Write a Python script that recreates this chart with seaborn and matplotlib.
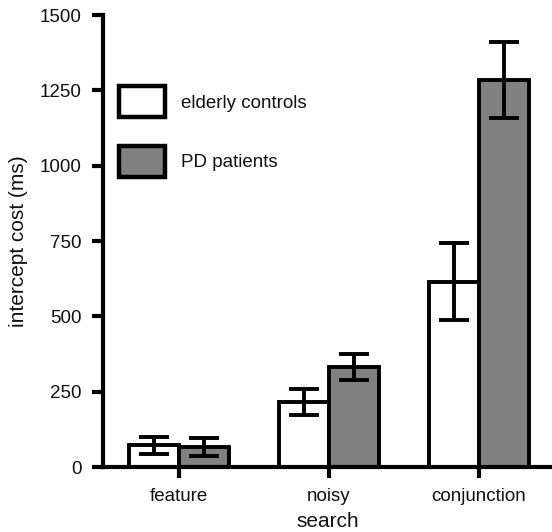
import matplotlib
matplotlib.use("Agg")
import matplotlib.pyplot as plt
import seaborn as sns
import pandas as pd
import numpy as np

categories = ["feature", "noisy", "conjunction"]
groups = ["elderly controls", "PD patients"]
controls = [72, 215, 615]
controls_err = [29, 43, 128]
pd_vals = [66, 332, 1285]
pd_err = [29, 43, 127]
yticks = [0, 250, 500, 750, 1000, 1250, 1500]

df = pd.DataFrame({
    "search": categories * 2,
    "group": [groups[0]] * 3 + [groups[1]] * 3,
    "cost": controls + pd_vals,
    "err": controls_err + pd_err,
})

sns.set_style("white")
plt.rcParams["font.family"] = ["Liberation Sans", "DejaVu Sans"]

W, H = 552, 532
fig = plt.figure(figsize=(W / 100, H / 100), dpi=100)
ax = fig.add_axes([103 / W, 65 / H, (W - 103) / W, 452 / H])

sns.barplot(data=df, x="search", y="cost", hue="group", order=categories,
            hue_order=groups, palette=["white", "#808080"], width=0.667,
            edgecolor="black", linewidth=2.8, errorbar=None, ax=ax,
            saturation=1)

# error bars at bar centres
for patch_group, g in zip(ax.containers, groups):
    sub = df[df["group"] == g].set_index("search").loc[categories]
    xs = [p.get_x() + p.get_width() / 2 for p in patch_group]
    ax.errorbar(xs, sub["cost"].values, yerr=sub["err"].values, fmt="none",
                ecolor="black", elinewidth=2.8, capsize=10.5, capthick=2.8,
                zorder=5)

ax.set_xlim(-0.507, 2.487)
ax.set_ylim(0, 1500)
ax.set_yticks(yticks)
ax.set_yticklabels([str(v) for v in yticks])

for s in ["top", "right"]:
    ax.spines[s].set_visible(False)
for s in ["left", "bottom"]:
    ax.spines[s].set_linewidth(3.0)
    ax.spines[s].set_color("black")

ax.tick_params(axis="both", direction="out", length=8, width=3.0,
               colors="black", labelsize=13.5, labelcolor="#111111",
               left=True, bottom=True)
ax.tick_params(axis="y", pad=7.5)
ax.tick_params(axis="x", pad=7)
ax.set_xlabel("search", fontsize=15, labelpad=5.5, color="#111111")
ax.set_ylabel("intercept cost (ms)", fontsize=15, labelpad=8, color="#111111")

handles, labels = ax.get_legend_handles_labels()
for h in handles:
    h.set_linewidth(3.2)
leg = ax.legend(handles, labels, loc="upper left",
                bbox_to_anchor=(119 / W, 1 - 86 / H),
                bbox_transform=fig.transFigure, frameon=False,
                fontsize=13.5, handlelength=2.45, handleheight=2.2,
                labelspacing=1.5, handletextpad=0.85, borderpad=0,
                borderaxespad=0)
for t in leg.get_texts():
    t.set_color("#111111")

fig.savefig("out.png", dpi=100)
